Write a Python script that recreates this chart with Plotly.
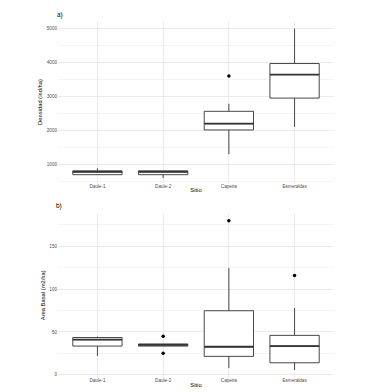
import plotly.graph_objects as go
from plotly.subplots import make_subplots

sitios = ["Daule-1", "Daule-2", "Capeira", "Esmeraldas"]

# Panel a) Densidad (ind/ha)
dens_low = [690, 590, 1295, 2100]
dens_q1 = [690, 690, 2010, 2950]
dens_med = [775, 775, 2195, 3645]
dens_q3 = [805, 805, 2560, 3970]
dens_high = [880, 805, 2785, 5000]
dens_out_x = ["Capeira"]
dens_out_y = [3600]

# Panel b) Area Basal (m2/ha)
ab_low = [22, 33.5, 7.8, 5.5]
ab_q1 = [33.5, 33.5, 21.5, 14]
ab_med = [41, 35, 32.7, 33.5]
ab_q3 = [43.5, 36, 74.8, 46]
ab_high = [44.5, 36, 124.6, 78]
ab_out_x = ["Daule-2", "Daule-2", "Capeira", "Esmeraldas"]
ab_out_y = [45, 25, 180, 116]

dens_ticks = [1000, 2000, 3000, 4000, 5000]
ab_ticks = [0, 50, 100, 150]

FONT = "Liberation Sans, Arial, sans-serif"
LINE = "#333333"
BOXW = 0.75

fig = make_subplots(rows=2, cols=1)

pos = list(range(1, len(sitios) + 1))
idx = {s: i + 1 for i, s in enumerate(sitios)}


def add_panel(row, low, q1, med, q3, high, ox, oy):
    fig.add_trace(go.Box(
        x=pos, q1=q1, median=med, q3=q3, lowerfence=low, upperfence=high,
        width=BOXW, whiskerwidth=0, fillcolor="white",
        line=dict(color=LINE, width=0.9), showlegend=False, boxpoints=False,
    ), row=row, col=1)
    # thicker median line (ggplot style)
    for p, m in zip(pos, med):
        fig.add_trace(go.Scatter(
            x=[p - BOXW / 2, p + BOXW / 2], y=[m, m], mode="lines",
            line=dict(color=LINE, width=1.8), showlegend=False, hoverinfo="skip",
        ), row=row, col=1)
    fig.add_trace(go.Scatter(
        x=[idx[s] for s in ox], y=oy, mode="markers",
        marker=dict(color="black", size=3.5), showlegend=False,
    ), row=row, col=1)


add_panel(1, dens_low, dens_q1, dens_med, dens_q3, dens_high, dens_out_x, dens_out_y)
add_panel(2, ab_low, ab_q1, ab_med, ab_q3, ab_high, ab_out_x, ab_out_y)

xd = [50 / 367, 326 / 367]
tickfont = dict(family=FONT, size=4.6, color="#4D4D4D")
titlefont = dict(family=FONT, size=5.8, color="black")

common_x = dict(
    range=[0.4, 4.6], tickvals=pos, ticktext=sitios, domain=xd,
    showgrid=True, gridcolor="#EBEBEB", gridwidth=0.6, zeroline=False,
    showline=False, ticks="", tickfont=tickfont, ticklabelstandoff=-1,
    title=dict(text="Sitio", font=titlefont, standoff=0),
)
fig.update_xaxes(**common_x)

fig.update_yaxes(
    row=1, col=1, range=[445, 5225], tickvals=dens_ticks,
    domain=[1 - 175 / 392, 1 - 13 / 392],
    showgrid=True, gridcolor="#EBEBEB", gridwidth=0.6, zeroline=False,
    minor=dict(dtick=500, tick0=0, showgrid=True, gridcolor="#F4F4F4", gridwidth=0.5),
    ticks="", tickfont=tickfont,
    title=dict(text="Densidad (ind/ha)", font=titlefont, standoff=3),
)
fig.update_yaxes(
    row=2, col=1, range=[-3.2, 189], tickvals=ab_ticks,
    domain=[1 - 369.5 / 392, 1 - 205 / 392],
    showgrid=True, gridcolor="#EBEBEB", gridwidth=0.6, zeroline=False,
    minor=dict(dtick=25, tick0=0, showgrid=True, gridcolor="#F4F4F4", gridwidth=0.5),
    ticks="", tickfont=tickfont,
    title=dict(text="Area Basal (m2/ha)", font=titlefont, standoff=3),
)

fig.add_annotation(text="a)", x=47 / 367, y=1 - 7 / 392, xref="paper", yref="paper",
                   showarrow=False, xanchor="left", yanchor="middle",
                   font=dict(family=FONT, size=6.5, color="black"))
fig.add_annotation(text="b)", x=46 / 367, y=1 - 198 / 392, xref="paper", yref="paper",
                   showarrow=False, xanchor="left", yanchor="middle",
                   font=dict(family=FONT, size=6.5, color="black"))

fig.update_layout(
    width=367, height=392, margin=dict(l=0, r=0, t=0, b=0),
    paper_bgcolor="white", plot_bgcolor="white", font=dict(family=FONT),
)

fig.write_html("out.html")
